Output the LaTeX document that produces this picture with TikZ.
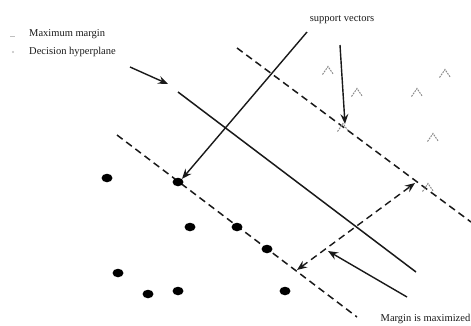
\documentclass[tikz,border=0pt]{standalone}
\usepackage{fontspec}
\setmainfont{Liberation Serif}
\usetikzlibrary{arrows.meta,calc,shapes.geometric}
\begin{document}
\begin{tikzpicture}[x=1pt,y=-1pt,
  lbl/.style={font=\fontsize{10.5}{12}\selectfont, inner sep=0pt, text=black!90},
  dot/.style={ellipse, fill=black, minimum width=11pt, minimum height=8.5pt, inner sep=0pt},
  tri/.style={draw=black!45, line width=1pt, dash pattern=on 1.8pt off 1pt},
  solidline/.style={line width=1.5pt, black!90},
  dashline/.style={line width=1.5pt, black!90, dash pattern=on 7pt off 4.5pt},
  arr/.style={line width=1.4pt, black!90, -{Stealth[length=10pt,width=8pt,inset=3.5pt]}},
  darr/.style={line width=1.4pt, black!90, dash pattern=on 7pt off 4.5pt, {Stealth[length=10pt,width=8pt,inset=3.5pt]}-{Stealth[length=10pt,width=8pt,inset=3.5pt]}},
  legmark/.style={draw=black!25, line width=1pt}
]
\useasboundingbox (0,0) rectangle (471,325);
\clip (0,0) rectangle (471,325);

% legend
\coordinate (lm1) at (10,36);
\coordinate (lm2) at (15,36);
\draw[legmark] (lm1) -- (lm2);
\fill[black!25] (13,52) circle (1.2pt);
\node[lbl, anchor=west] (maxm) at (29,34) {Maximum margin};
\node[lbl, anchor=west] (dech) at (29,52) {Decision hyperplane};
\node[lbl] (svt) at (342,20) {support vectors};
\node[lbl, anchor=base east] (mim) at (470.5,321) {Margin is maximized};

% hyperplane and margins
\coordinate (h1) at (178,92);
\coordinate (h2) at (416,272);
\coordinate (u1) at (237,48);
\coordinate (u2) at (471,222);
\coordinate (l1) at (117,135);
\coordinate (l2) at (357,317);
\draw[solidline] (h1) -- (h2);
\draw[dashline] (u1) -- (u2);
\draw[dashline] (l1) -- (l2);

% circles (class 1)
\node[dot] (d1) at (107,178) {};
\node[dot] (d2) at (178,182) {};
\node[dot] (d3) at (190,227) {};
\node[dot] (d4) at (237,227) {};
\node[dot] (d5) at (267,249) {};
\node[dot] (d6) at (118,273) {};
\node[dot] (d7) at (148,294) {};
\node[dot] (d8) at (178,291) {};
\node[dot] (d9) at (285,291) {};

% triangles (class 2)
\foreach \n/\x/\y in {t1/328/70, t2/357/92, t3/417/92, t4/445/73, t5/433/137, t6/343/127, t7/428/187} {
  \coordinate (\n) at (\x,\y);
  \draw[tri] ($(\n)+(-5.5,4.5)$) -- ($(\n)+(0,-3.5)$) -- ($(\n)+(5.5,4.5)$);
}

% arrows
\coordinate (sva) at (307,32);
\draw[arr] (sva) -- (d2.north east);
\coordinate (svb) at (340,45);
\coordinate (svbt) at (345,124);
\draw[arr] (svb) -- (svbt);
\coordinate (dha) at (130,67);
\coordinate (dhb) at (168,84);
\draw[arr] (dha) -- (dhb);
\coordinate (ma) at (297,270);
\coordinate (mb) at (415,183);
\draw[darr] (ma) -- (mb);
\coordinate (mia) at (407,297);
\coordinate (mib) at (328,251);
\draw[arr] (mia) -- (mib);
\end{tikzpicture}
\end{document}
